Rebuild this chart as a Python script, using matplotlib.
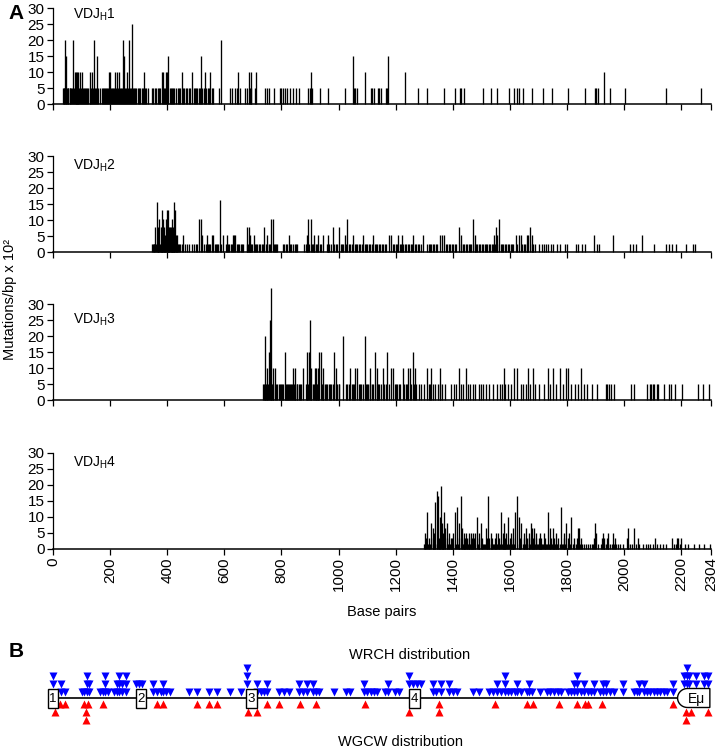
import numpy as np
import matplotlib
matplotlib.use('Agg')
import matplotlib.pyplot as plt
from matplotlib.patches import Rectangle, Polygon

plt.rcParams['font.family'] = ['Liberation Sans', 'DejaVu Sans']
plt.rcParams['mathtext.default'] = 'regular'

# ---- panel A data (base-pair position, mutations/bp x 10^2) ----
# VDJH1: lowest level spikes (5) plus taller ones
h1_low = [34, 37, 40, 44, 48, 51, 54, 58, 61, 64, 67, 73, 79, 83, 87, 92, 98, 105, 108, 112,
          116, 120, 124, 128, 133, 139, 146, 150, 158, 164, 170, 174, 178, 182, 186, 190, 193,
          203, 207, 210, 214, 220, 227, 234, 238, 241, 252, 256, 262, 270, 273, 280, 284, 288,
          292, 297, 301, 306, 310, 314, 322, 326, 332, 345, 350, 356, 360, 366, 371, 376, 390,
          392, 408, 412, 416, 420, 425, 430, 436, 440, 446, 456, 460, 465, 470, 476, 480, 492,
          496, 500, 505, 510, 514, 523, 527, 537, 542, 546, 555, 560, 581, 619, 628, 639, 645,
          655, 672, 678, 690, 695, 709, 742, 748, 755, 774, 795, 800, 807, 814, 820, 830, 839,
          852, 861, 894, 900, 908, 935, 964, 1022, 1054, 1058, 1063, 1112, 1118, 1124, 1139,
          1142, 1147, 1166, 1170, 1279, 1311, 1370, 1408, 1425, 1430, 1440, 1504, 1532, 1555,
          1596, 1614, 1623, 1632, 1644, 1678, 1714, 1747, 1805, 1863, 1898, 1903, 1908, 1952,
          2002, 2146, 2268]
h1_pos = [42, 45, 70, 77, 81, 85, 89, 95, 102, 130, 136, 143, 154, 196, 199, 217, 224, 231,
          245, 248, 259, 266, 276, 318, 381, 385, 395, 399, 403, 451, 487, 518, 532, 550, 588,
          647, 686, 693, 710, 903, 1049, 1094, 1174, 1232, 1930]
h1_val = [20, 15, 20, 10, 10, 10, 10, 10, 10, 10, 10, 20, 15, 10, 10, 10, 10, 10,
          20, 15, 10, 20, 25, 10, 10, 10, 10, 10, 15, 10, 10, 15, 10, 10, 20,
          10, 10, 10, 10, 10, 15, 10, 15, 10, 10]

# VDJH2
h2_low = [345, 349, 352, 355, 360, 366, 369, 375, 377, 383, 389, 391, 401, 407, 413, 415, 420,
          425, 430, 433, 437, 441, 445, 453, 462, 470, 477, 485, 495, 500, 505, 530, 534, 542,
          546, 550, 566, 570, 575, 579, 588, 605, 614, 618, 622, 626, 644, 648, 652, 657, 661,
          666, 680, 683, 690, 694, 698, 707, 712, 716, 720, 726, 731, 736, 745, 750, 755, 759,
          773, 777, 781, 785, 805, 810, 815, 820, 830, 835, 840, 846, 851, 855, 880, 885, 889,
          898, 906, 911, 915, 920, 924, 935, 940, 958, 962, 968, 972, 984, 990, 995, 1008, 1012,
          1016, 1027, 1036, 1040, 1046, 1056, 1061, 1066, 1071, 1076, 1081, 1091, 1096, 1101,
          1106, 1111, 1116, 1126, 1131, 1136, 1141, 1146, 1151, 1156, 1161, 1166, 1190, 1195,
          1200, 1205, 1214, 1218, 1227, 1232, 1237, 1242, 1247, 1252, 1257, 1267, 1272, 1277,
          1282, 1287, 1310, 1315, 1320, 1325, 1330, 1335, 1340, 1345, 1375, 1380, 1386, 1391,
          1396, 1401, 1406, 1411, 1430, 1435, 1440, 1445, 1450, 1455, 1460, 1465, 1476, 1481,
          1486, 1491, 1496, 1501, 1506, 1511, 1516, 1521, 1526, 1531, 1536, 1541, 1546, 1556,
          1567, 1572, 1577, 1582, 1587, 1592, 1597, 1602, 1607, 1612, 1626, 1643, 1648, 1653,
          1658, 1676, 1681, 1686, 1703, 1711, 1719, 1727, 1735, 1744, 1752, 1764, 1776, 1792,
          1800, 1832, 1840, 1851, 1864, 1904, 1912, 2021, 2032, 2043, 2104, 2145, 2156, 2169,
          2181, 2217, 2241, 2249]
h2_pos = [357, 363, 372, 380, 386, 394, 398, 404, 410, 417, 422, 427, 366, 369, 377, 383, 389,
          391, 401, 407, 413, 415, 420, 425, 430, 433, 456, 512, 518, 522, 538, 555, 561, 584,
          594, 610, 629, 634, 639, 678, 686, 690, 703, 740, 750, 762, 769, 825, 889, 894, 902,
          915, 929, 944, 964, 979, 1000, 1022, 1031, 1051, 1086, 1121, 1177, 1185, 1209, 1222,
          1262, 1294, 1354, 1363, 1370, 1423, 1428, 1471, 1478, 1545, 1551, 1556, 1562, 1620,
          1631, 1639, 1660, 1663, 1671, 1676, 1893, 1960, 2061]
h2_val = [7.8, 15.6, 10.4, 13, 10.4, 10.4, 13, 13, 7.8, 10.4, 15.6, 13, 5.2, 7.8, 7.8, 7.8, 7.8,
          5.2, 7.8, 7.8, 7.8, 5.2, 7.8, 5.2, 5.2, 5.2, 5.2, 10.4, 10.4, 5.2, 5.2, 5.2, 5.2, 16.4,
          5.2, 5.2, 5.2, 5.2, 5.2, 7.8, 7.8, 5.2, 5.2, 7.8, 5.2, 10.4, 10.4, 5.2, 5.2, 10.4, 10.4,
          5.2, 5.2, 5.2, 5.2, 7.8, 7.8, 5.2, 10.4, 5.2, 5.2, 5.2, 5.2, 5.2, 5.2, 5.2,
          5.2, 5.2, 5.2, 5.2, 5.2, 7.8, 5.2, 10.4, 5.2, 5.2, 7.8, 5.2, 10.4, 5.2,
          5.2, 5.2, 5.2, 5.2, 7.8, 5.2, 5.2, 5.2, 5.2]

# VDJH3
h3_low = [735, 738, 741, 746, 750, 753, 762, 768, 772, 780, 786, 790, 795, 800, 803, 806, 815,
          818, 822, 826, 830, 833, 836, 844, 846, 853, 856, 860, 865, 870, 885, 888, 893, 905,
          910, 913, 921, 925, 929, 943, 947, 952, 956, 960, 965, 970, 975, 980, 990, 995, 1000,
          1003, 1025, 1030, 1035, 1046, 1050, 1054, 1070, 1075, 1080, 1086, 1096, 1100, 1104,
          1110, 1116, 1120, 1133, 1138, 1143, 1148, 1160, 1165, 1177, 1196, 1200, 1205, 1210,
          1215, 1230, 1235, 1240, 1255, 1264, 1270, 1280, 1290, 1300, 1315, 1320, 1331, 1339,
          1347, 1355, 1363, 1371, 1395, 1403, 1411, 1427, 1435, 1452, 1460, 1469, 1479, 1491,
          1497, 1507, 1517, 1527, 1540, 1553, 1564, 1572, 1584, 1592, 1603, 1639, 1647, 1655,
          1671, 1687, 1700, 1720, 1740, 1760, 1785, 1815, 1827, 1840, 1859, 1870, 1888, 1904,
          1936, 1940, 1946, 1955, 1964, 2023, 2035, 2081, 2090, 2094, 2100, 2106, 2115, 2120,
          2140, 2157, 2165, 2177, 2201, 2257, 2276, 2297]
h3_pos = [742, 748, 756, 759, 765, 770, 777, 812, 841, 849, 876, 890, 896, 900, 905, 917, 922,
          927, 932, 938, 945, 984, 990, 1016, 1040, 1058, 1065, 1092, 1110, 1127, 1135, 1154,
          1171, 1185, 1191, 1224, 1244, 1250, 1259, 1268, 1308, 1325, 1355, 1423, 1447, 1580,
          1615, 1623, 1663, 1679, 1732, 1752, 1776, 1796, 1804, 1848]
h3_val = [20, 10, 15, 25, 35, 10, 10, 15, 10, 10, 10, 15, 15, 25, 10, 10, 10,
          10, 15, 15, 10, 15, 10, 20, 10, 10, 10, 20, 10, 15, 10, 10,
          15, 10, 10, 10, 10, 10, 15, 10, 10, 10, 10, 10, 10, 10,
          10, 10, 10, 10, 10, 10, 10, 10, 10, 10]

# VDJH4: lowest level (1.6), second level (3.3) and taller spikes
h4_low = [1300, 1304, 1312, 1316, 1320, 1330, 1334, 1337, 1346, 1352, 1355, 1362, 1366, 1374,
          1382, 1386, 1390, 1394, 1398, 1402, 1411, 1419, 1423, 1432, 1436, 1440, 1444, 1448,
          1452, 1456, 1460, 1464, 1468, 1472, 1476, 1488, 1492, 1501, 1505, 1509, 1513, 1518,
          1528, 1532, 1536, 1540, 1544, 1548, 1552, 1556, 1560, 1564, 1572, 1576, 1580, 1584,
          1588, 1598, 1602, 1606, 1610, 1614, 1630, 1634, 1645, 1649, 1653, 1657, 1661, 1665,
          1669, 1677, 1681, 1685, 1689, 1693, 1697, 1701, 1705, 1709, 1713, 1717, 1721, 1725,
          1729, 1738, 1742, 1746, 1750, 1754, 1758, 1762, 1766, 1770, 1774, 1782, 1786, 1790,
          1794, 1802, 1806, 1810, 1820, 1824, 1830, 1845, 1852, 1858, 1866, 1872, 1880, 1886,
          1892, 1910, 1918, 1930, 1936, 1942, 1950, 1956, 1966, 1972, 1980, 1986, 1996, 2012,
          2020, 2028, 2040, 2052, 2066, 2075, 2084, 2092, 2102, 2115, 2124, 2136, 2146, 2175,
          2182, 2196, 2212, 2222, 2244, 2262, 2280, 2300]
h4_mid = [1306, 1318, 1332, 1352, 1364, 1380, 1392, 1396, 1420, 1438, 1442, 1450, 1458, 1466,
          1474, 1490, 1503, 1520, 1526, 1538, 1546, 1562, 1582, 1600, 1612, 1636, 1650, 1660,
          1667, 1680, 1690, 1700, 1710, 1722, 1744, 1756, 1768, 1788, 1804, 1826, 1834, 1850,
          1895, 1922, 1930, 1940, 1968, 2010, 2048, 2109, 2169, 2185, 2189, 2200]
h4_pos = [1308, 1304, 1325, 1330, 1335, 1339, 1343, 1349, 1354, 1358, 1362, 1365, 1370, 1374,
          1378, 1385, 1400, 1407, 1415, 1420, 1428, 1432, 1440, 1447, 1455, 1462, 1470, 1478,
          1483, 1490, 1497, 1516, 1524, 1534, 1550, 1558, 1568, 1574, 1580, 1587, 1594, 1604,
          1612, 1619, 1625, 1630, 1640, 1648, 1656, 1665, 1672, 1677, 1684, 1690, 1705, 1720,
          1734, 1740, 1752, 1762, 1778, 1790, 1798, 1808, 1815, 1839, 1843, 1899, 1903, 1925,
          1945, 1960, 2015, 2035]
h4_val = [11.5, 4.9, 8.2, 6.6, 4.9, 14.8, 18.1, 16.5, 9.9, 19.8, 8.2, 4.9, 11.5, 6.6,
          8.2, 4.9, 4.9, 11.5, 13.2, 8.2, 16.5, 6.6, 4.9, 4.9, 4.9, 4.9, 4.9, 4.9,
          9.9, 4.9, 8.2, 6.6, 16.5, 4.9, 4.9, 4.9, 11.5, 4.9, 8.2, 4.9, 9.9, 4.9,
          6.6, 11.5, 16.5, 9.9, 8.2, 4.9, 6.6, 4.9, 8.2, 6.6, 6.6, 4.9, 4.9, 4.9,
          11.5, 6.6, 6.6, 4.9, 13.2, 4.9, 8.2, 4.9, 9.9, 6.6, 6.6, 8.2, 4.9, 4.9,
          4.9, 4.9, 6.6, 6.6]

panel_names = ['VDJ$_H$1', 'VDJ$_H$2', 'VDJ$_H$3', 'VDJ$_H$4']
x_ticks = [0, 200, 400, 600, 800, 1000, 1200, 1400, 1600, 1800, 2000, 2200, 2304]

# ---- panel B data (position in bp, stack level) ----
wrch_pos = [1, 1, 28, 28, 42, 100, 108, 118, 118, 118, 127, 127, 164, 174, 183, 183, 183, 194,
            215, 223, 223, 232, 232, 232, 241, 241, 255, 255, 255, 290, 300, 310, 349, 349, 365,
            377, 386, 386, 394, 410, 476, 503, 547, 573, 620, 657, 678, 678, 678, 716, 716, 730,
            740, 751, 751, 792, 810, 827, 862, 862, 874, 890, 890, 911, 911, 920, 932, 985, 1026,
            1040, 1088, 1088, 1100, 1112, 1124, 1135, 1163, 1173, 1173, 1199, 1213, 1248, 1248,
            1260, 1275, 1289, 1330, 1330, 1342, 1357, 1357, 1388, 1388, 1400, 1415, 1470, 1490,
            1528, 1540, 1555, 1555, 1567, 1581, 1581, 1581, 1592, 1604, 1616, 1625, 1625, 1637,
            1660, 1668, 1668, 1678, 1706, 1730, 1742, 1753, 1767, 1779, 1802, 1814, 1823, 1823,
            1835, 1835, 1835, 1849, 1861, 1861, 1872, 1884, 1893, 1893, 1917, 1925, 1925, 1937,
            1937, 1952, 1966, 1996, 1996, 2033, 2045, 2053, 2053, 2068, 2068, 2080, 2092, 2104,
            2115, 2127, 2139, 2150, 2170, 2170, 2209, 2209, 2220, 2220, 2220, 2228, 2228, 2252,
            2252, 2281, 2281, 2293, 2293]
wrch_lvl = [2, 3, 1, 2, 1, 1, 1, 1, 2, 3, 1, 2, 1, 1, 1, 2, 3, 1,
            1, 1, 2, 1, 2, 3, 1, 2, 1, 2, 3, 2, 2, 2, 1, 2, 1,
            1, 1, 2, 1, 1, 1, 1, 1, 1, 1, 1, 2, 3, 4, 1, 2, 1,
            1, 1, 2, 1, 1, 1, 1, 2, 1, 1, 2, 1, 2, 1, 1, 1, 1,
            1, 1, 2, 1, 1, 1, 1, 1, 1, 2, 1, 1, 2, 3,
            2, 2, 2, 1, 2, 1, 1, 2, 1, 2, 1, 1, 1, 1,
            1, 1, 1, 2, 1, 1, 2, 3, 1, 1, 1, 1, 2, 1,
            1, 1, 2, 1, 1, 1, 1, 1, 1, 1, 1, 1, 1, 2,
            1, 2, 3, 1, 1, 2, 1, 1, 1, 2, 1, 1, 2, 1,
            2, 1, 1, 1, 2, 1, 1, 1, 2, 1, 2, 1, 1, 1,
            1, 1, 1, 1, 1, 2, 2, 3, 2, 3, 4, 2, 3, 2,
            3, 2, 3, 2, 3]
wgcw_pos = [7, 24, 42, 108, 115, 115, 124, 174, 365, 386, 503, 547, 573, 684, 713, 748, 792,
            865, 920, 1091, 1248, 1350, 1350, 1546, 1660, 1680, 1773, 1835, 1863, 1872, 1923,
            2170, 2217, 2217, 2234, 2293]
wgcw_lvl = [2, 1, 1, 1, 2, 3, 1, 1, 1, 1, 1, 1, 1, 2, 2, 1, 1,
            1, 1, 1, 2, 1, 2, 1, 1, 1, 1, 1, 1, 1, 1,
            1, 2, 3, 2, 2]
box_pos = [0, 308, 695, 1266]
box_text = ['1', '2', '3', '4']

fig = plt.figure(figsize=(7.18, 7.5), dpi=100)
L, W = 53 / 718, 658 / 718
bottoms = [104, 252, 400, 549]

panels = [
    ([h1_low], [5], h1_pos, h1_val),
    ([h2_low], [2.6], h2_pos, h2_val),
    ([h3_low], [5], h3_pos, h3_val),
    ([h4_low, h4_mid], [1.6, 3.3], h4_pos, h4_val),
]
label_y = [0.93, 0.90, 0.84, 0.90]

for i, (lows, levels, pos, val) in enumerate(panels):
    ax = fig.add_axes([L, 1 - bottoms[i] / 750, W, 96 / 750])
    for lp, lv in zip(lows, levels):
        ax.vlines(lp, 0, lv, color='black', lw=0.95, clip_on=False)
    ax.vlines(pos, 0, val, color='black', lw=0.95, clip_on=False)
    ax.set_xlim(0, 2304)
    ax.set_ylim(0, 30)
    ax.set_yticks(range(0, 31, 5))
    ax.set_xticks(x_ticks)
    ax.spines['top'].set_visible(False)
    ax.spines['right'].set_visible(False)
    ax.spines['left'].set_linewidth(0.9)
    ax.spines['bottom'].set_linewidth(1.1)
    ax.tick_params(direction='out', length=4, width=0.9, labelsize=11, pad=2)
    ax.text(0.03, label_y[i], panel_names[i], transform=ax.transAxes, fontsize=10, va='center')
    if i < 3:
        ax.tick_params(axis='x', labelbottom=False)
    else:
        ax.set_xticklabels([str(t) for t in x_ticks], rotation=90)

fig.text(0.014, 0.60, 'Mutations/bp x 10²', rotation=90, ha='center', va='center', fontsize=10.5)
fig.text(0.532, 0.184, 'Base pairs', ha='center', va='center', fontsize=10.5)
fig.text(0.012, 0.982, 'A', fontsize=15, fontweight='bold', va='center')
fig.text(0.012, 0.131, 'B', fontsize=15, fontweight='bold', va='center')

# ---- panel B ----
bx = fig.add_axes([L, 0, W, 110 / 750])
bx.set_xlim(0, 2304)
bx.set_ylim(750, 640)
bx.axis('off')
line_y = 698
bx.plot([0, 2240], [line_y, line_y], color='black', lw=1.2, zorder=1)

wp = np.array(wrch_pos)
wl = np.array(wrch_lvl)
bx.plot(wp, line_y - 6 - 8 * (wl - 1), 'v', color='#0000ff', ms=5.2, mec='none', zorder=3,
        clip_on=False)
gp = np.array(wgcw_pos)
gl = np.array(wgcw_lvl)
bx.plot(gp, line_y + 6 + 8 * (gl - 1), '^', color='#ff0000', ms=5.2, mec='none', zorder=3,
        clip_on=False)

for p, t in zip(box_pos, box_text):
    bx.add_patch(Rectangle((p - 19, line_y - 9.5), 38, 19, facecolor='white',
                           edgecolor='black', lw=1.0, zorder=4, clip_on=False))
    bx.text(p, line_y + 0.5, t, ha='center', va='center', fontsize=9.5, zorder=5)

# E-mu box with rounded left side
cx, rx, ry = 2222, 35, 9.5
t = np.linspace(np.pi / 2, 3 * np.pi / 2, 40)
arc = np.column_stack([cx + rx * np.cos(t), line_y - ry * np.sin(t)])
pts = np.vstack([[[2300, line_y - ry]], arc, [[2300, line_y + ry]]])
bx.add_patch(Polygon(pts, closed=True, facecolor='white', edgecolor='black', lw=1.0,
                     zorder=4, clip_on=False))
bx.text(2252, line_y + 0.5, 'Eμ', ha='center', va='center', fontsize=10, zorder=5)

fig.text(410 / 718, 1 - 655 / 750, 'WRCH distribution', ha='center', va='center', fontsize=10.5)
fig.text(400 / 718, 1 - 742 / 750, 'WGCW distribution', ha='center', va='center', fontsize=10.5)

fig.savefig('out.png', dpi=100)
